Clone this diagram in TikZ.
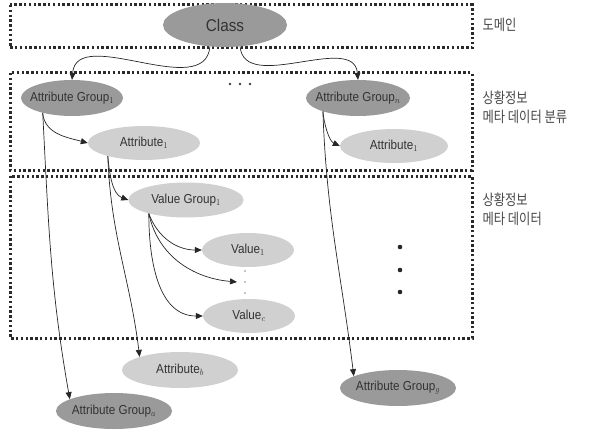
\documentclass[tikz,border=0pt]{standalone}
\usepackage{graphicx}
\usepackage{fontspec}
\setmainfont{Liberation Sans}
\newfontfamily\kr{Noto Sans CJK KR}
\usetikzlibrary{shapes.geometric,arrows.meta}
\definecolor{darkfill}{HTML}{9A9A9A}
\definecolor{lightfill}{HTML}{D0D0D0}
\definecolor{txt}{HTML}{333333}
\definecolor{boxline}{HTML}{2A2A2A}
\tikzset{
  oval/.style={ellipse, inner sep=0pt, text=txt, font=\fontsize{13}{14}\selectfont, draw=none},
  darkoval/.style={oval, fill=darkfill},
  lightoval/.style={oval, fill=lightfill},
  arr/.style={-{Triangle[length=7pt,width=6pt]}, draw=black!85, line width=0.7pt},
  dotbox/.style={draw=boxline, line width=3pt, dash pattern=on 2.4pt off 2.4pt},
  side/.style={anchor=west, align=left, text=txt!90, font=\kr\fontsize{15}{19}\selectfont}
}
\newcommand{\sbs}[1]{$_{\scriptstyle #1}$}
\newcommand{\lbl}[1]{\makebox[0pt]{\scalebox{0.9}[1]{#1}}}
\newcommand{\krl}[1]{\scalebox{0.82}[1]{#1}}
\begin{document}
\begin{tikzpicture}[x=1pt,y=-1pt]
\useasboundingbox (0,0) rectangle (610,433);
% dotted frames
\draw[dotbox] (10,5) rectangle (472,48);
\draw[dotbox] (10,73) rectangle (472,170);
\draw[dotbox] (10,176) rectangle (472,338);
% side labels
\node[side] (l1) at (479,25) {\krl{도메인}};
\node[side] (l2) at (479,107) {\krl{상황정보}\\\krl{메타 데이터 분류}};
\node[side] (l3) at (479,209) {\krl{상황정보}\\\krl{메타 데이터}};
% nodes
\node[darkoval, minimum width=124pt, minimum height=44pt, font=\fontsize{17}{18}\selectfont] (class) at (225,25) {\lbl{Class}};
\node[darkoval, minimum width=102pt, minimum height=36pt] (ag1) at (72,98) {\lbl{Attribute Group\sbs{1}}};
\node[darkoval, minimum width=104pt, minimum height=36pt] (agn) at (358,98) {\lbl{Attribute Group\sbs{n}}};
\node[lightoval, minimum width=112pt, minimum height=34pt] (att1) at (144,143) {\lbl{Attribute\sbs{1}}};
\node[lightoval, minimum width=108pt, minimum height=34pt] (att1r) at (394,146) {\lbl{Attribute\sbs{1}}};
\node[lightoval, minimum width=115pt, minimum height=35pt] (vg1) at (186,200) {\lbl{Value Group\sbs{1}}};
\node[lightoval, minimum width=92pt, minimum height=34pt] (val1) at (248,250) {\lbl{Value\sbs{1}}};
\node[lightoval, minimum width=92pt, minimum height=34pt] (valc) at (249,316) {\lbl{Value\sbs{c}}};
\node[lightoval, minimum width=116pt, minimum height=36pt] (attb) at (180,370) {\lbl{Attribute\sbs{b}}};
\node[darkoval, minimum width=116pt, minimum height=36pt] (aga) at (114,411) {\lbl{Attribute Group\sbs{a}}};
\node[darkoval, minimum width=116pt, minimum height=36pt] (agg) at (398,388) {\lbl{Attribute Group\sbs{g}}};
% ellipsis marks
\foreach \x in {230,240,250} \fill[black!75] (\x,84) circle (1.3pt);
\foreach \y in {247,270,292} \fill[black!85] (400,\y) circle (2.3pt);
\foreach \y in {271,282,293} \fill[black!45] (245,\y) circle (0.8pt);
\coordinate (vmid) at (237,282);
% connectors
\draw[arr] (class.235) to[out=-95,in=85] (ag1.north);
\draw[arr] (class.305) to[out=-85,in=95] (agn.north);
\draw[arr] (ag1.207) to[out=-85,in=165] (att1.west);
\draw[arr] (ag1.207) to[out=-87,in=100] (aga.165);
\draw[arr] (agn.201) to[out=-85,in=155,looseness=0.8] (att1r.west);
\draw[arr] (agn.201) to[out=-88,in=97] (agg.165);
\draw[arr] (att1.200) to[out=-85,in=160,looseness=0.9] (vg1.west);
\draw[arr] (att1.200) to[out=-88,in=97] (attb.162);
\draw[arr] (vg1.200) to[out=-70,in=180] (val1.west);
\draw[arr] (vg1.200) to[out=-78,in=175] (vmid);
\draw[arr] (vg1.200) to[out=-90,in=180] (valc.west);
\end{tikzpicture}
\end{document}
